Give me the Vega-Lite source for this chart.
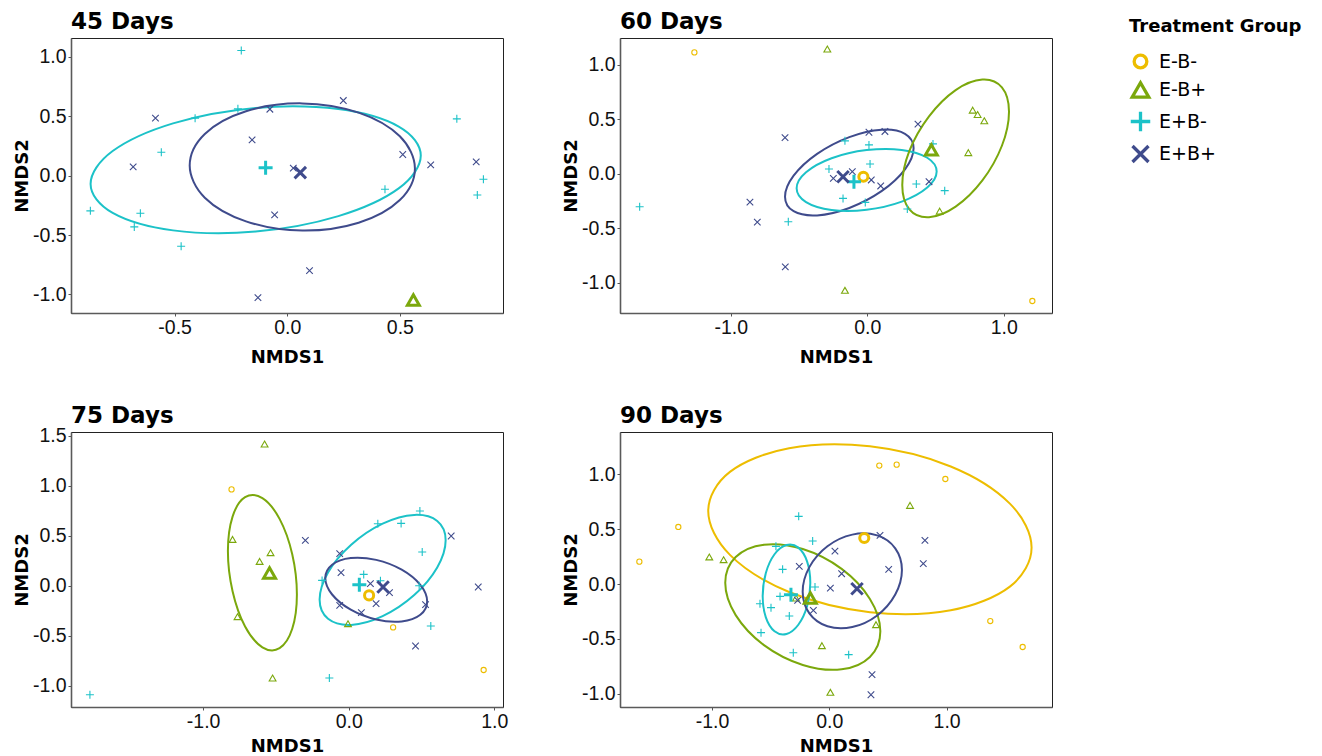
{
"$schema": "https://vega.github.io/schema/vega-lite/v6.json",
"padding": {"left": 12, "top": 10, "right": 5, "bottom": 5},
"background": "white",
"config": {
 "view": {"stroke": "#222", "strokeWidth": 1},
 "axis": {"grid": false, "labelFont": "Liberation Sans", "labelFontSize": 19.5, "labelColor": "#111", "titleFont": "DejaVu Sans", "titleFontWeight": "bold", "titleFontSize": 18, "titleColor": "#000", "tickSize": 3, "tickColor": "#555", "domainColor": "#5a5a5a", "domainWidth": 1.6, "labelPadding": 2, "format": ".1f", "labelExpr": "replace(datum.label, '−', '-')"},
 "axisX": {"titlePadding": 11.5},
 "axisY": {"titlePadding": 1},
 "title": {"font": "DejaVu Sans", "fontSize": 23, "fontWeight": "bold", "anchor": "start", "frame": "group", "offset": 4, "color": "#000"},
 "legend": {"titleFont": "DejaVu Sans", "titleFontSize": 18, "titleFontWeight": "bold", "titleColor": "#000", "labelFont": "DejaVu Sans", "labelFontSize": 19, "labelColor": "#000", "symbolSize": 380, "symbolStrokeWidth": 3.3, "rowPadding": 0.5, "titlePadding": 14, "orient": "none", "legendX": 1053, "legendY": -25, "padding": 5, "labelOffset": 7}
},
"datasets": {
 "pts": [
  {"day":"45 Days","group":"E+B-","kind":"point","x":-0.204,"y":1.052},
  {"day":"45 Days","group":"E+B-","kind":"point","x":-0.219,"y":0.561},
  {"day":"45 Days","group":"E+B-","kind":"point","x":-0.409,"y":0.483},
  {"day":"45 Days","group":"E+B-","kind":"point","x":-0.559,"y":0.196},
  {"day":"45 Days","group":"E+B-","kind":"point","x":-0.874,"y":-0.297},
  {"day":"45 Days","group":"E+B-","kind":"point","x":-0.652,"y":-0.317},
  {"day":"45 Days","group":"E+B-","kind":"point","x":-0.679,"y":-0.432},
  {"day":"45 Days","group":"E+B-","kind":"point","x":-0.471,"y":-0.595},
  {"day":"45 Days","group":"E+B-","kind":"point","x":0.434,"y":-0.115},
  {"day":"45 Days","group":"E+B-","kind":"point","x":0.753,"y":0.477},
  {"day":"45 Days","group":"E+B-","kind":"point","x":0.871,"y":-0.031},
  {"day":"45 Days","group":"E+B-","kind":"point","x":0.844,"y":-0.163},
  {"day":"45 Days","group":"E+B-","kind":"centroid","x":-0.096,"y":0.065},
  {"day":"45 Days","group":"E+B+","kind":"point","x":-0.585,"y":0.483},
  {"day":"45 Days","group":"E+B+","kind":"point","x":-0.077,"y":0.558},
  {"day":"45 Days","group":"E+B+","kind":"point","x":0.249,"y":0.631},
  {"day":"45 Days","group":"E+B+","kind":"point","x":-0.156,"y":0.300},
  {"day":"45 Days","group":"E+B+","kind":"point","x":-0.684,"y":0.073},
  {"day":"45 Days","group":"E+B+","kind":"point","x":0.027,"y":0.062},
  {"day":"45 Days","group":"E+B+","kind":"point","x":0.513,"y":0.177},
  {"day":"45 Days","group":"E+B+","kind":"point","x":0.637,"y":0.090},
  {"day":"45 Days","group":"E+B+","kind":"point","x":0.839,"y":0.115},
  {"day":"45 Days","group":"E+B+","kind":"point","x":-0.056,"y":-0.331},
  {"day":"45 Days","group":"E+B+","kind":"point","x":0.099,"y":-0.800},
  {"day":"45 Days","group":"E+B+","kind":"point","x":-0.130,"y":-1.027},
  {"day":"45 Days","group":"E+B+","kind":"centroid","x":0.058,"y":0.025},
  {"day":"45 Days","group":"E-B+","kind":"centroid","x":0.56,"y":-1.047},
  {"day":"60 Days","group":"E-B-","kind":"point","x":-1.267,"y":1.113},
  {"day":"60 Days","group":"E-B-","kind":"point","x":1.209,"y":-1.169},
  {"day":"60 Days","group":"E-B-","kind":"centroid","x":-0.029,"y":-0.028},
  {"day":"60 Days","group":"E-B+","kind":"point","x":-0.293,"y":1.144},
  {"day":"60 Days","group":"E-B+","kind":"point","x":0.772,"y":0.583},
  {"day":"60 Days","group":"E-B+","kind":"point","x":0.808,"y":0.543},
  {"day":"60 Days","group":"E-B+","kind":"point","x":0.857,"y":0.485},
  {"day":"60 Days","group":"E-B+","kind":"point","x":0.740,"y":0.193},
  {"day":"60 Days","group":"E-B+","kind":"point","x":0.530,"y":-0.344},
  {"day":"60 Days","group":"E-B+","kind":"point","x":-0.164,"y":-1.071},
  {"day":"60 Days","group":"E-B+","kind":"centroid","x":0.469,"y":0.218},
  {"day":"60 Days","group":"E+B-","kind":"point","x":-1.668,"y":-0.304},
  {"day":"60 Days","group":"E+B-","kind":"point","x":-0.579,"y":-0.442},
  {"day":"60 Days","group":"E+B-","kind":"point","x":-0.164,"y":0.301},
  {"day":"60 Days","group":"E+B-","kind":"point","x":0.012,"y":0.264},
  {"day":"60 Days","group":"E+B-","kind":"point","x":0.020,"y":0.089},
  {"day":"60 Days","group":"E+B-","kind":"point","x":-0.281,"y":0.043},
  {"day":"60 Days","group":"E+B-","kind":"point","x":-0.178,"y":-0.227},
  {"day":"60 Days","group":"E+B-","kind":"point","x":-0.015,"y":-0.264},
  {"day":"60 Days","group":"E+B-","kind":"point","x":0.359,"y":-0.095},
  {"day":"60 Days","group":"E+B-","kind":"point","x":0.567,"y":-0.156},
  {"day":"60 Days","group":"E+B-","kind":"point","x":0.293,"y":-0.325},
  {"day":"60 Days","group":"E+B-","kind":"point","x":0.481,"y":0.273},
  {"day":"60 Days","group":"E+B-","kind":"centroid","x":-0.098,"y":-0.074},
  {"day":"60 Days","group":"E+B+","kind":"point","x":-0.603,"y":0.331},
  {"day":"60 Days","group":"E+B+","kind":"point","x":-0.860,"y":-0.261},
  {"day":"60 Days","group":"E+B+","kind":"point","x":-0.806,"y":-0.445},
  {"day":"60 Days","group":"E+B+","kind":"point","x":-0.601,"y":-0.856},
  {"day":"60 Days","group":"E+B+","kind":"point","x":0.012,"y":0.380},
  {"day":"60 Days","group":"E+B+","kind":"point","x":0.129,"y":0.387},
  {"day":"60 Days","group":"E+B+","kind":"point","x":0.371,"y":0.454},
  {"day":"60 Days","group":"E+B+","kind":"point","x":-0.249,"y":-0.043},
  {"day":"60 Days","group":"E+B+","kind":"point","x":-0.110,"y":0.018},
  {"day":"60 Days","group":"E+B+","kind":"point","x":0.029,"y":-0.058},
  {"day":"60 Days","group":"E+B+","kind":"point","x":0.098,"y":-0.113},
  {"day":"60 Days","group":"E+B+","kind":"point","x":0.452,"y":-0.074},
  {"day":"60 Days","group":"E+B+","kind":"centroid","x":-0.178,"y":-0.028},
  {"day":"75 Days","group":"E-B+","kind":"point","x":-0.578,"y":1.417},
  {"day":"75 Days","group":"E-B+","kind":"point","x":-0.798,"y":0.463},
  {"day":"75 Days","group":"E-B+","kind":"point","x":-0.537,"y":0.330},
  {"day":"75 Days","group":"E-B+","kind":"point","x":-0.612,"y":0.243},
  {"day":"75 Days","group":"E-B+","kind":"point","x":-0.764,"y":-0.310},
  {"day":"75 Days","group":"E-B+","kind":"point","x":-0.005,"y":-0.380},
  {"day":"75 Days","group":"E-B+","kind":"point","x":-0.523,"y":-0.923},
  {"day":"75 Days","group":"E-B+","kind":"centroid","x":-0.544,"y":0.127},
  {"day":"75 Days","group":"E-B-","kind":"point","x":-0.805,"y":0.963},
  {"day":"75 Days","group":"E-B-","kind":"point","x":0.305,"y":-0.417},
  {"day":"75 Days","group":"E-B-","kind":"point","x":0.927,"y":-0.843},
  {"day":"75 Days","group":"E-B-","kind":"centroid","x":0.140,"y":-0.097},
  {"day":"75 Days","group":"E+B-","kind":"point","x":-1.778,"y":-1.090},
  {"day":"75 Days","group":"E+B-","kind":"point","x":-0.133,"y":-0.923},
  {"day":"75 Days","group":"E+B-","kind":"point","x":0.489,"y":0.747},
  {"day":"75 Days","group":"E+B-","kind":"point","x":0.200,"y":0.620},
  {"day":"75 Days","group":"E+B-","kind":"point","x":0.360,"y":0.623},
  {"day":"75 Days","group":"E+B-","kind":"point","x":0.505,"y":0.337},
  {"day":"75 Days","group":"E+B-","kind":"point","x":0.103,"y":0.113},
  {"day":"75 Days","group":"E+B-","kind":"point","x":0.218,"y":0.050},
  {"day":"75 Days","group":"E+B-","kind":"point","x":-0.183,"y":0.053},
  {"day":"75 Days","group":"E+B-","kind":"point","x":0.484,"y":0.000},
  {"day":"75 Days","group":"E+B-","kind":"point","x":0.564,"y":-0.403},
  {"day":"75 Days","group":"E+B-","kind":"centroid","x":0.073,"y":0.010},
  {"day":"75 Days","group":"E+B+","kind":"point","x":-0.298,"y":0.453},
  {"day":"75 Days","group":"E+B+","kind":"point","x":-0.062,"y":0.320},
  {"day":"75 Days","group":"E+B+","kind":"point","x":-0.053,"y":0.130},
  {"day":"75 Days","group":"E+B+","kind":"point","x":0.149,"y":0.020},
  {"day":"75 Days","group":"E+B+","kind":"point","x":0.280,"y":-0.070},
  {"day":"75 Days","group":"E+B+","kind":"point","x":0.188,"y":-0.180},
  {"day":"75 Days","group":"E+B+","kind":"point","x":-0.062,"y":-0.197},
  {"day":"75 Days","group":"E+B+","kind":"point","x":0.087,"y":-0.270},
  {"day":"75 Days","group":"E+B+","kind":"point","x":0.528,"y":-0.190},
  {"day":"75 Days","group":"E+B+","kind":"point","x":0.704,"y":0.497},
  {"day":"75 Days","group":"E+B+","kind":"point","x":0.890,"y":-0.013},
  {"day":"75 Days","group":"E+B+","kind":"point","x":0.459,"y":-0.603},
  {"day":"75 Days","group":"E+B+","kind":"centroid","x":0.236,"y":-0.013},
  {"day":"90 Days","group":"E-B-","kind":"point","x":-1.619,"y":0.204},
  {"day":"90 Days","group":"E-B-","kind":"point","x":-1.287,"y":0.521},
  {"day":"90 Days","group":"E-B-","kind":"point","x":0.426,"y":1.081},
  {"day":"90 Days","group":"E-B-","kind":"point","x":0.574,"y":1.090},
  {"day":"90 Days","group":"E-B-","kind":"point","x":0.989,"y":0.959},
  {"day":"90 Days","group":"E-B-","kind":"point","x":1.372,"y":-0.338},
  {"day":"90 Days","group":"E-B-","kind":"point","x":1.648,"y":-0.575},
  {"day":"90 Days","group":"E-B-","kind":"centroid","x":0.298,"y":0.420},
  {"day":"90 Days","group":"E-B+","kind":"point","x":-1.023,"y":0.247},
  {"day":"90 Days","group":"E-B+","kind":"point","x":-0.901,"y":0.222},
  {"day":"90 Days","group":"E-B+","kind":"point","x":0.688,"y":0.718},
  {"day":"90 Days","group":"E-B+","kind":"point","x":0.398,"y":-0.371},
  {"day":"90 Days","group":"E-B+","kind":"point","x":-0.063,"y":-0.563},
  {"day":"90 Days","group":"E-B+","kind":"point","x":0.009,"y":-0.989},
  {"day":"90 Days","group":"E-B+","kind":"point","x":-0.284,"y":-0.128},
  {"day":"90 Days","group":"E-B+","kind":"centroid","x":-0.162,"y":-0.128},
  {"day":"90 Days","group":"E+B-","kind":"point","x":-0.261,"y":0.618},
  {"day":"90 Days","group":"E+B-","kind":"point","x":-0.142,"y":0.393},
  {"day":"90 Days","group":"E+B-","kind":"point","x":-0.455,"y":0.344},
  {"day":"90 Days","group":"E+B-","kind":"point","x":-0.398,"y":0.134},
  {"day":"90 Days","group":"E+B-","kind":"point","x":-0.122,"y":-0.027},
  {"day":"90 Days","group":"E+B-","kind":"point","x":-0.420,"y":-0.113},
  {"day":"90 Days","group":"E+B-","kind":"point","x":-0.591,"y":-0.180},
  {"day":"90 Days","group":"E+B-","kind":"point","x":-0.497,"y":-0.216},
  {"day":"90 Days","group":"E+B-","kind":"point","x":-0.341,"y":-0.292},
  {"day":"90 Days","group":"E+B-","kind":"point","x":-0.582,"y":-0.444},
  {"day":"90 Days","group":"E+B-","kind":"point","x":-0.307,"y":-0.627},
  {"day":"90 Days","group":"E+B-","kind":"point","x":0.165,"y":-0.645},
  {"day":"90 Days","group":"E+B-","kind":"centroid","x":-0.327,"y":-0.097},
  {"day":"90 Days","group":"E+B+","kind":"point","x":0.432,"y":0.444},
  {"day":"90 Days","group":"E+B+","kind":"point","x":0.815,"y":0.399},
  {"day":"90 Days","group":"E+B+","kind":"point","x":0.801,"y":0.186},
  {"day":"90 Days","group":"E+B+","kind":"point","x":0.506,"y":0.134},
  {"day":"90 Days","group":"E+B+","kind":"point","x":0.048,"y":0.301},
  {"day":"90 Days","group":"E+B+","kind":"point","x":0.105,"y":0.094},
  {"day":"90 Days","group":"E+B+","kind":"point","x":-0.256,"y":0.161},
  {"day":"90 Days","group":"E+B+","kind":"point","x":0.009,"y":-0.037},
  {"day":"90 Days","group":"E+B+","kind":"point","x":-0.270,"y":-0.149},
  {"day":"90 Days","group":"E+B+","kind":"point","x":-0.136,"y":-0.240},
  {"day":"90 Days","group":"E+B+","kind":"point","x":0.364,"y":-0.828},
  {"day":"90 Days","group":"E+B+","kind":"point","x":0.355,"y":-1.011},
  {"day":"90 Days","group":"E+B+","kind":"centroid","x":0.236,"y":-0.043}
 ],
 "ell": [
  {"day":"45 Days","group":"E+B-","i":0,"x":0.593,"y":0.168},
  {"day":"45 Days","group":"E+B-","i":1,"x":0.495,"y":0.412},
  {"day":"45 Days","group":"E+B-","i":2,"x":0.227,"y":0.559},
  {"day":"45 Days","group":"E+B-","i":3,"x":-0.140,"y":0.569},
  {"day":"45 Days","group":"E+B-","i":4,"x":-0.507,"y":0.439},
  {"day":"45 Days","group":"E+B-","i":5,"x":-0.775,"y":0.206},
  {"day":"45 Days","group":"E+B-","i":6,"x":-0.873,"y":-0.070},
  {"day":"45 Days","group":"E+B-","i":7,"x":-0.775,"y":-0.314},
  {"day":"45 Days","group":"E+B-","i":8,"x":-0.507,"y":-0.461},
  {"day":"45 Days","group":"E+B-","i":9,"x":-0.140,"y":-0.471},
  {"day":"45 Days","group":"E+B-","i":10,"x":0.227,"y":-0.341},
  {"day":"45 Days","group":"E+B-","i":11,"x":0.495,"y":-0.108},
  {"day":"45 Days","group":"E+B+","i":0,"x":0.567,"y":0.060},
  {"day":"45 Days","group":"E+B+","i":1,"x":0.500,"y":0.330},
  {"day":"45 Days","group":"E+B+","i":2,"x":0.317,"y":0.529},
  {"day":"45 Days","group":"E+B+","i":3,"x":0.067,"y":0.607},
  {"day":"45 Days","group":"E+B+","i":4,"x":-0.183,"y":0.541},
  {"day":"45 Days","group":"E+B+","i":5,"x":-0.366,"y":0.350},
  {"day":"45 Days","group":"E+B+","i":6,"x":-0.433,"y":0.084},
  {"day":"45 Days","group":"E+B+","i":7,"x":-0.366,"y":-0.186},
  {"day":"45 Days","group":"E+B+","i":8,"x":-0.183,"y":-0.385},
  {"day":"45 Days","group":"E+B+","i":9,"x":0.067,"y":-0.463},
  {"day":"45 Days","group":"E+B+","i":10,"x":0.317,"y":-0.397},
  {"day":"45 Days","group":"E+B+","i":11,"x":0.500,"y":-0.206},
  {"day":"60 Days","group":"E+B+","i":0,"x":0.339,"y":0.232},
  {"day":"60 Days","group":"E+B+","i":1,"x":0.276,"y":0.365},
  {"day":"60 Days","group":"E+B+","i":2,"x":0.104,"y":0.403},
  {"day":"60 Days","group":"E+B+","i":3,"x":-0.132,"y":0.335},
  {"day":"60 Days","group":"E+B+","i":4,"x":-0.368,"y":0.181},
  {"day":"60 Days","group":"E+B+","i":5,"x":-0.540,"y":-0.019},
  {"day":"60 Days","group":"E+B+","i":6,"x":-0.603,"y":-0.212},
  {"day":"60 Days","group":"E+B+","i":7,"x":-0.540,"y":-0.345},
  {"day":"60 Days","group":"E+B+","i":8,"x":-0.368,"y":-0.383},
  {"day":"60 Days","group":"E+B+","i":9,"x":-0.132,"y":-0.315},
  {"day":"60 Days","group":"E+B+","i":10,"x":0.104,"y":-0.161},
  {"day":"60 Days","group":"E+B+","i":11,"x":0.276,"y":0.039},
  {"day":"60 Days","group":"E+B-","i":0,"x":0.508,"y":0.019},
  {"day":"60 Days","group":"E+B-","i":1,"x":0.439,"y":0.146},
  {"day":"60 Days","group":"E+B-","i":2,"x":0.252,"y":0.218},
  {"day":"60 Days","group":"E+B-","i":3,"x":-0.005,"y":0.216},
  {"day":"60 Days","group":"E+B-","i":4,"x":-0.262,"y":0.141},
  {"day":"60 Days","group":"E+B-","i":5,"x":-0.449,"y":0.012},
  {"day":"60 Days","group":"E+B-","i":6,"x":-0.518,"y":-0.135},
  {"day":"60 Days","group":"E+B-","i":7,"x":-0.449,"y":-0.262},
  {"day":"60 Days","group":"E+B-","i":8,"x":-0.262,"y":-0.334},
  {"day":"60 Days","group":"E+B-","i":9,"x":-0.005,"y":-0.332},
  {"day":"60 Days","group":"E+B-","i":10,"x":0.252,"y":-0.257},
  {"day":"60 Days","group":"E+B-","i":11,"x":0.439,"y":-0.128},
  {"day":"60 Days","group":"E-B+","i":0,"x":1.038,"y":0.569},
  {"day":"60 Days","group":"E-B+","i":1,"x":0.986,"y":0.792},
  {"day":"60 Days","group":"E-B+","i":2,"x":0.843,"y":0.864},
  {"day":"60 Days","group":"E-B+","i":3,"x":0.647,"y":0.767},
  {"day":"60 Days","group":"E-B+","i":4,"x":0.452,"y":0.526},
  {"day":"60 Days","group":"E-B+","i":5,"x":0.308,"y":0.208},
  {"day":"60 Days","group":"E-B+","i":6,"x":0.256,"y":-0.105},
  {"day":"60 Days","group":"E-B+","i":7,"x":0.308,"y":-0.328},
  {"day":"60 Days","group":"E-B+","i":8,"x":0.452,"y":-0.400},
  {"day":"60 Days","group":"E-B+","i":9,"x":0.647,"y":-0.303},
  {"day":"60 Days","group":"E-B+","i":10,"x":0.843,"y":-0.062},
  {"day":"60 Days","group":"E-B+","i":11,"x":0.986,"y":0.256},
  {"day":"75 Days","group":"E-B+","i":0,"x":-0.356,"y":-0.087},
  {"day":"75 Days","group":"E-B+","i":1,"x":-0.388,"y":0.315},
  {"day":"75 Days","group":"E-B+","i":2,"x":-0.475,"y":0.668},
  {"day":"75 Days","group":"E-B+","i":3,"x":-0.593,"y":0.876},
  {"day":"75 Days","group":"E-B+","i":4,"x":-0.712,"y":0.885},
  {"day":"75 Days","group":"E-B+","i":5,"x":-0.798,"y":0.691},
  {"day":"75 Days","group":"E-B+","i":6,"x":-0.830,"y":0.347},
  {"day":"75 Days","group":"E-B+","i":7,"x":-0.798,"y":-0.055},
  {"day":"75 Days","group":"E-B+","i":8,"x":-0.712,"y":-0.408},
  {"day":"75 Days","group":"E-B+","i":9,"x":-0.593,"y":-0.616},
  {"day":"75 Days","group":"E-B+","i":10,"x":-0.475,"y":-0.625},
  {"day":"75 Days","group":"E-B+","i":11,"x":-0.388,"y":-0.431},
  {"day":"75 Days","group":"E+B-","i":0,"x":0.666,"y":0.455},
  {"day":"75 Days","group":"E+B-","i":1,"x":0.608,"y":0.647},
  {"day":"75 Days","group":"E+B-","i":2,"x":0.450,"y":0.708},
  {"day":"75 Days","group":"E+B-","i":3,"x":0.233,"y":0.621},
  {"day":"75 Days","group":"E+B-","i":4,"x":0.017,"y":0.410},
  {"day":"75 Days","group":"E+B-","i":5,"x":-0.142,"y":0.133},
  {"day":"75 Days","group":"E+B-","i":6,"x":-0.200,"y":-0.139},
  {"day":"75 Days","group":"E+B-","i":7,"x":-0.142,"y":-0.331},
  {"day":"75 Days","group":"E+B-","i":8,"x":0.017,"y":-0.392},
  {"day":"75 Days","group":"E+B-","i":9,"x":0.233,"y":-0.305},
  {"day":"75 Days","group":"E+B-","i":10,"x":0.450,"y":-0.094},
  {"day":"75 Days","group":"E+B-","i":11,"x":0.608,"y":0.183},
  {"day":"75 Days","group":"E+B+","i":0,"x":0.539,"y":-0.157},
  {"day":"75 Days","group":"E+B+","i":1,"x":0.492,"y":0.008},
  {"day":"75 Days","group":"E+B+","i":2,"x":0.364,"y":0.160},
  {"day":"75 Days","group":"E+B+","i":3,"x":0.189,"y":0.258},
  {"day":"75 Days","group":"E+B+","i":4,"x":0.014,"y":0.277},
  {"day":"75 Days","group":"E+B+","i":5,"x":-0.114,"y":0.210},
  {"day":"75 Days","group":"E+B+","i":6,"x":-0.161,"y":0.077},
  {"day":"75 Days","group":"E+B+","i":7,"x":-0.114,"y":-0.088},
  {"day":"75 Days","group":"E+B+","i":8,"x":0.014,"y":-0.240},
  {"day":"75 Days","group":"E+B+","i":9,"x":0.189,"y":-0.338},
  {"day":"75 Days","group":"E+B+","i":10,"x":0.364,"y":-0.357},
  {"day":"75 Days","group":"E+B+","i":11,"x":0.492,"y":-0.290},
  {"day":"90 Days","group":"E-B-","i":0,"x":1.724,"y":0.333},
  {"day":"90 Days","group":"E-B-","i":1,"x":1.539,"y":0.734},
  {"day":"90 Days","group":"E-B-","i":2,"x":1.035,"y":1.073},
  {"day":"90 Days","group":"E-B-","i":3,"x":0.346,"y":1.257},
  {"day":"90 Days","group":"E-B-","i":4,"x":-0.343,"y":1.240},
  {"day":"90 Days","group":"E-B-","i":5,"x":-0.847,"y":1.024},
  {"day":"90 Days","group":"E-B-","i":6,"x":-1.032,"y":0.667},
  {"day":"90 Days","group":"E-B-","i":7,"x":-0.847,"y":0.266},
  {"day":"90 Days","group":"E-B-","i":8,"x":-0.343,"y":-0.073},
  {"day":"90 Days","group":"E-B-","i":9,"x":0.346,"y":-0.257},
  {"day":"90 Days","group":"E-B-","i":10,"x":1.035,"y":-0.240},
  {"day":"90 Days","group":"E-B-","i":11,"x":1.539,"y":-0.024},
  {"day":"90 Days","group":"E-B+","i":0,"x":0.435,"y":-0.431},
  {"day":"90 Days","group":"E-B+","i":1,"x":0.346,"y":-0.136},
  {"day":"90 Days","group":"E-B+","i":2,"x":0.105,"y":0.138},
  {"day":"90 Days","group":"E-B+","i":3,"x":-0.226,"y":0.319},
  {"day":"90 Days","group":"E-B+","i":4,"x":-0.557,"y":0.359},
  {"day":"90 Days","group":"E-B+","i":5,"x":-0.798,"y":0.246},
  {"day":"90 Days","group":"E-B+","i":6,"x":-0.887,"y":0.011},
  {"day":"90 Days","group":"E-B+","i":7,"x":-0.798,"y":-0.284},
  {"day":"90 Days","group":"E-B+","i":8,"x":-0.557,"y":-0.558},
  {"day":"90 Days","group":"E-B+","i":9,"x":-0.226,"y":-0.739},
  {"day":"90 Days","group":"E-B+","i":10,"x":0.105,"y":-0.779},
  {"day":"90 Days","group":"E-B+","i":11,"x":0.346,"y":-0.666},
  {"day":"90 Days","group":"E+B-","i":0,"x":-0.162,"y":0.010},
  {"day":"90 Days","group":"E+B-","i":1,"x":-0.189,"y":0.205},
  {"day":"90 Days","group":"E+B-","i":2,"x":-0.264,"y":0.332},
  {"day":"90 Days","group":"E+B-","i":3,"x":-0.365,"y":0.356},
  {"day":"90 Days","group":"E+B-","i":4,"x":-0.467,"y":0.272},
  {"day":"90 Days","group":"E+B-","i":5,"x":-0.541,"y":0.101},
  {"day":"90 Days","group":"E+B-","i":6,"x":-0.568,"y":-0.110},
  {"day":"90 Days","group":"E+B-","i":7,"x":-0.541,"y":-0.305},
  {"day":"90 Days","group":"E+B-","i":8,"x":-0.467,"y":-0.432},
  {"day":"90 Days","group":"E+B-","i":9,"x":-0.365,"y":-0.456},
  {"day":"90 Days","group":"E+B-","i":10,"x":-0.264,"y":-0.372},
  {"day":"90 Days","group":"E+B-","i":11,"x":-0.189,"y":-0.201},
  {"day":"90 Days","group":"E+B+","i":0,"x":0.619,"y":0.128},
  {"day":"90 Days","group":"E+B+","i":1,"x":0.562,"y":0.326},
  {"day":"90 Days","group":"E+B+","i":2,"x":0.408,"y":0.444},
  {"day":"90 Days","group":"E+B+","i":3,"x":0.196,"y":0.451},
  {"day":"90 Days","group":"E+B+","i":4,"x":-0.016,"y":0.345},
  {"day":"90 Days","group":"E+B+","i":5,"x":-0.170,"y":0.154},
  {"day":"90 Days","group":"E+B+","i":6,"x":-0.227,"y":-0.070},
  {"day":"90 Days","group":"E+B+","i":7,"x":-0.170,"y":-0.268},
  {"day":"90 Days","group":"E+B+","i":8,"x":-0.016,"y":-0.386},
  {"day":"90 Days","group":"E+B+","i":9,"x":0.196,"y":-0.393},
  {"day":"90 Days","group":"E+B+","i":10,"x":0.408,"y":-0.287},
  {"day":"90 Days","group":"E+B+","i":11,"x":0.562,"y":-0.096}
 ]
},
"columns": 2,
"spacing": {"row": 37, "column": 52},
"concat": [
 {"title": "45 Days", "width": 432, "height": 275,
  "encoding": {
   "x": {"field": "x", "type": "quantitative", "scale": {"domain": [-0.96, 0.958], "nice": false, "zero": false}, "axis": {"title": "NMDS1", "values": [-0.5, 0, 0.5]}},
   "y": {"field": "y", "type": "quantitative", "scale": {"domain": [-1.156, 1.157], "nice": false, "zero": false}, "axis": {"title": "NMDS2", "values": [-1, -0.5, 0, 0.5, 1]}}
  },
  "layer": [
   {"data": {"name": "ell"}, "transform": [{"filter": "datum.day === '45 Days'"}], "mark": {"type": "line", "interpolate": "cardinal-closed", "strokeWidth": 2},
    "encoding": {"stroke": {"field": "group", "type": "nominal", "scale": {"domain": ["E+B+", "E+B-", "E-B+", "E-B-"], "range": ["#3F4B8C", "#1CC2C8", "#7BA80C", "#EDBD00"]}, "legend": null}, "order": {"field": "i", "type": "quantitative"}}},
   {"data": {"name": "pts"}, "transform": [{"filter": "datum.day === '45 Days' && datum.kind === 'point'"}], "mark": {"type": "point", "filled": false, "size": 64, "strokeWidth": 1.1, "opacity": 1},
    "encoding": {"color": {"field": "group", "type": "nominal", "scale": {"domain": ["E-B-", "E-B+", "E+B-", "E+B+"], "range": ["#EDBD00", "#7BA80C", "#1CC2C8", "#3F4B8C"]}, "legend": {"title": "Treatment Group"}},
     "shape": {"field": "group", "type": "nominal", "scale": {"domain": ["E-B-", "E-B+", "E+B-", "E+B+"], "range": ["M0.65,0A0.65,0.65,0,1,1,-0.65,0A0.65,0.65,0,1,1,0.65,0Z", "M0,-0.74L0.85,0.74L-0.85,0.74Z", "M-1,0L1,0M0,-1L0,1", "M-0.82,-0.82L0.82,0.82M-0.82,0.82L0.82,-0.82"]}, "legend": {"title": "Treatment Group"}}}},
   {"data": {"name": "pts"}, "transform": [{"filter": "datum.day === '45 Days' && datum.kind === 'centroid'"}], "mark": {"type": "point", "filled": false, "size": 196, "strokeWidth": 3, "opacity": 1},
    "encoding": {"color": {"field": "group", "type": "nominal", "scale": {"domain": ["E-B-", "E-B+", "E+B-", "E+B+"], "range": ["#EDBD00", "#7BA80C", "#1CC2C8", "#3F4B8C"]}, "legend": {"title": "Treatment Group"}},
     "shape": {"field": "group", "type": "nominal", "scale": {"domain": ["E-B-", "E-B+", "E+B-", "E+B+"], "range": ["M0.65,0A0.65,0.65,0,1,1,-0.65,0A0.65,0.65,0,1,1,0.65,0Z", "M0,-0.74L0.85,0.74L-0.85,0.74Z", "M-1,0L1,0M0,-1L0,1", "M-0.82,-0.82L0.82,0.82M-0.82,0.82L0.82,-0.82"]}, "legend": {"title": "Treatment Group"}}}}
  ]},
 {"title": "60 Days", "width": 432, "height": 275,
  "encoding": {
   "x": {"field": "x", "type": "quantitative", "scale": {"domain": [-1.812, 1.353], "nice": false, "zero": false}, "axis": {"title": "NMDS1", "values": [-1, 0, 1]}},
   "y": {"field": "y", "type": "quantitative", "scale": {"domain": [-1.279, 1.245], "nice": false, "zero": false}, "axis": {"title": "NMDS2", "values": [-1, -0.5, 0, 0.5, 1]}}
  },
  "layer": [
   {"data": {"name": "ell"}, "transform": [{"filter": "datum.day === '60 Days'"}], "mark": {"type": "line", "interpolate": "cardinal-closed", "strokeWidth": 2},
    "encoding": {"stroke": {"field": "group", "type": "nominal", "scale": {"domain": ["E+B+", "E+B-", "E-B+", "E-B-"], "range": ["#3F4B8C", "#1CC2C8", "#7BA80C", "#EDBD00"]}, "legend": null}, "order": {"field": "i", "type": "quantitative"}}},
   {"data": {"name": "pts"}, "transform": [{"filter": "datum.day === '60 Days' && datum.kind === 'point'"}], "mark": {"type": "point", "filled": false, "size": 64, "strokeWidth": 1.1, "opacity": 1},
    "encoding": {"color": {"field": "group", "type": "nominal", "scale": {"domain": ["E-B-", "E-B+", "E+B-", "E+B+"], "range": ["#EDBD00", "#7BA80C", "#1CC2C8", "#3F4B8C"]}, "legend": {"title": "Treatment Group"}},
     "shape": {"field": "group", "type": "nominal", "scale": {"domain": ["E-B-", "E-B+", "E+B-", "E+B+"], "range": ["M0.65,0A0.65,0.65,0,1,1,-0.65,0A0.65,0.65,0,1,1,0.65,0Z", "M0,-0.74L0.85,0.74L-0.85,0.74Z", "M-1,0L1,0M0,-1L0,1", "M-0.82,-0.82L0.82,0.82M-0.82,0.82L0.82,-0.82"]}, "legend": {"title": "Treatment Group"}}}},
   {"data": {"name": "pts"}, "transform": [{"filter": "datum.day === '60 Days' && datum.kind === 'centroid'"}], "mark": {"type": "point", "filled": false, "size": 196, "strokeWidth": 3, "opacity": 1},
    "encoding": {"color": {"field": "group", "type": "nominal", "scale": {"domain": ["E-B-", "E-B+", "E+B-", "E+B+"], "range": ["#EDBD00", "#7BA80C", "#1CC2C8", "#3F4B8C"]}, "legend": {"title": "Treatment Group"}},
     "shape": {"field": "group", "type": "nominal", "scale": {"domain": ["E-B-", "E-B+", "E+B-", "E+B+"], "range": ["M0.65,0A0.65,0.65,0,1,1,-0.65,0A0.65,0.65,0,1,1,0.65,0Z", "M0,-0.74L0.85,0.74L-0.85,0.74Z", "M-1,0L1,0M0,-1L0,1", "M-0.82,-0.82L0.82,0.82M-0.82,0.82L0.82,-0.82"]}, "legend": {"title": "Treatment Group"}}}}
  ]},
 {"title": {"text": "75 Days", "offset": -2}, "width": 432, "height": 275,
  "encoding": {
   "x": {"field": "x", "type": "quantitative", "scale": {"domain": [-1.908, 1.06], "nice": false, "zero": false}, "axis": {"title": "NMDS1", "values": [-1, 0, 1], "titlePadding": 6.5}},
   "y": {"field": "y", "type": "quantitative", "scale": {"domain": [-1.213, 1.537], "nice": false, "zero": false}, "axis": {"title": "NMDS2", "values": [-1, -0.5, 0, 0.5, 1, 1.5]}}
  },
  "layer": [
   {"data": {"name": "ell"}, "transform": [{"filter": "datum.day === '75 Days'"}], "mark": {"type": "line", "interpolate": "cardinal-closed", "strokeWidth": 2},
    "encoding": {"stroke": {"field": "group", "type": "nominal", "scale": {"domain": ["E+B+", "E+B-", "E-B+", "E-B-"], "range": ["#3F4B8C", "#1CC2C8", "#7BA80C", "#EDBD00"]}, "legend": null}, "order": {"field": "i", "type": "quantitative"}}},
   {"data": {"name": "pts"}, "transform": [{"filter": "datum.day === '75 Days' && datum.kind === 'point'"}], "mark": {"type": "point", "filled": false, "size": 64, "strokeWidth": 1.1, "opacity": 1},
    "encoding": {"color": {"field": "group", "type": "nominal", "scale": {"domain": ["E-B-", "E-B+", "E+B-", "E+B+"], "range": ["#EDBD00", "#7BA80C", "#1CC2C8", "#3F4B8C"]}, "legend": {"title": "Treatment Group"}},
     "shape": {"field": "group", "type": "nominal", "scale": {"domain": ["E-B-", "E-B+", "E+B-", "E+B+"], "range": ["M0.65,0A0.65,0.65,0,1,1,-0.65,0A0.65,0.65,0,1,1,0.65,0Z", "M0,-0.74L0.85,0.74L-0.85,0.74Z", "M-1,0L1,0M0,-1L0,1", "M-0.82,-0.82L0.82,0.82M-0.82,0.82L0.82,-0.82"]}, "legend": {"title": "Treatment Group"}}}},
   {"data": {"name": "pts"}, "transform": [{"filter": "datum.day === '75 Days' && datum.kind === 'centroid'"}], "mark": {"type": "point", "filled": false, "size": 196, "strokeWidth": 3, "opacity": 1},
    "encoding": {"color": {"field": "group", "type": "nominal", "scale": {"domain": ["E-B-", "E-B+", "E+B-", "E+B+"], "range": ["#EDBD00", "#7BA80C", "#1CC2C8", "#3F4B8C"]}, "legend": {"title": "Treatment Group"}},
     "shape": {"field": "group", "type": "nominal", "scale": {"domain": ["E-B-", "E-B+", "E+B-", "E+B+"], "range": ["M0.65,0A0.65,0.65,0,1,1,-0.65,0A0.65,0.65,0,1,1,0.65,0Z", "M0,-0.74L0.85,0.74L-0.85,0.74Z", "M-1,0L1,0M0,-1L0,1", "M-0.82,-0.82L0.82,0.82M-0.82,0.82L0.82,-0.82"]}, "legend": {"title": "Treatment Group"}}}}
  ]},
 {"title": "90 Days", "width": 432, "height": 275,
  "encoding": {
   "x": {"field": "x", "type": "quantitative", "scale": {"domain": [-1.784, 1.898], "nice": false, "zero": false}, "axis": {"title": "NMDS1", "values": [-1, 0, 1], "titlePadding": 6.5}},
   "y": {"field": "y", "type": "quantitative", "scale": {"domain": [-1.123, 1.388], "nice": false, "zero": false}, "axis": {"title": "NMDS2", "values": [-1, -0.5, 0, 0.5, 1]}}
  },
  "layer": [
   {"data": {"name": "ell"}, "transform": [{"filter": "datum.day === '90 Days'"}], "mark": {"type": "line", "interpolate": "cardinal-closed", "strokeWidth": 2},
    "encoding": {"stroke": {"field": "group", "type": "nominal", "scale": {"domain": ["E+B+", "E+B-", "E-B+", "E-B-"], "range": ["#3F4B8C", "#1CC2C8", "#7BA80C", "#EDBD00"]}, "legend": null}, "order": {"field": "i", "type": "quantitative"}}},
   {"data": {"name": "pts"}, "transform": [{"filter": "datum.day === '90 Days' && datum.kind === 'point'"}], "mark": {"type": "point", "filled": false, "size": 64, "strokeWidth": 1.1, "opacity": 1},
    "encoding": {"color": {"field": "group", "type": "nominal", "scale": {"domain": ["E-B-", "E-B+", "E+B-", "E+B+"], "range": ["#EDBD00", "#7BA80C", "#1CC2C8", "#3F4B8C"]}, "legend": {"title": "Treatment Group"}},
     "shape": {"field": "group", "type": "nominal", "scale": {"domain": ["E-B-", "E-B+", "E+B-", "E+B+"], "range": ["M0.65,0A0.65,0.65,0,1,1,-0.65,0A0.65,0.65,0,1,1,0.65,0Z", "M0,-0.74L0.85,0.74L-0.85,0.74Z", "M-1,0L1,0M0,-1L0,1", "M-0.82,-0.82L0.82,0.82M-0.82,0.82L0.82,-0.82"]}, "legend": {"title": "Treatment Group"}}}},
   {"data": {"name": "pts"}, "transform": [{"filter": "datum.day === '90 Days' && datum.kind === 'centroid'"}], "mark": {"type": "point", "filled": false, "size": 196, "strokeWidth": 3, "opacity": 1},
    "encoding": {"color": {"field": "group", "type": "nominal", "scale": {"domain": ["E-B-", "E-B+", "E+B-", "E+B+"], "range": ["#EDBD00", "#7BA80C", "#1CC2C8", "#3F4B8C"]}, "legend": {"title": "Treatment Group"}},
     "shape": {"field": "group", "type": "nominal", "scale": {"domain": ["E-B-", "E-B+", "E+B-", "E+B+"], "range": ["M0.65,0A0.65,0.65,0,1,1,-0.65,0A0.65,0.65,0,1,1,0.65,0Z", "M0,-0.74L0.85,0.74L-0.85,0.74Z", "M-1,0L1,0M0,-1L0,1", "M-0.82,-0.82L0.82,0.82M-0.82,0.82L0.82,-0.82"]}, "legend": {"title": "Treatment Group"}}}}
  ]}
]
}
